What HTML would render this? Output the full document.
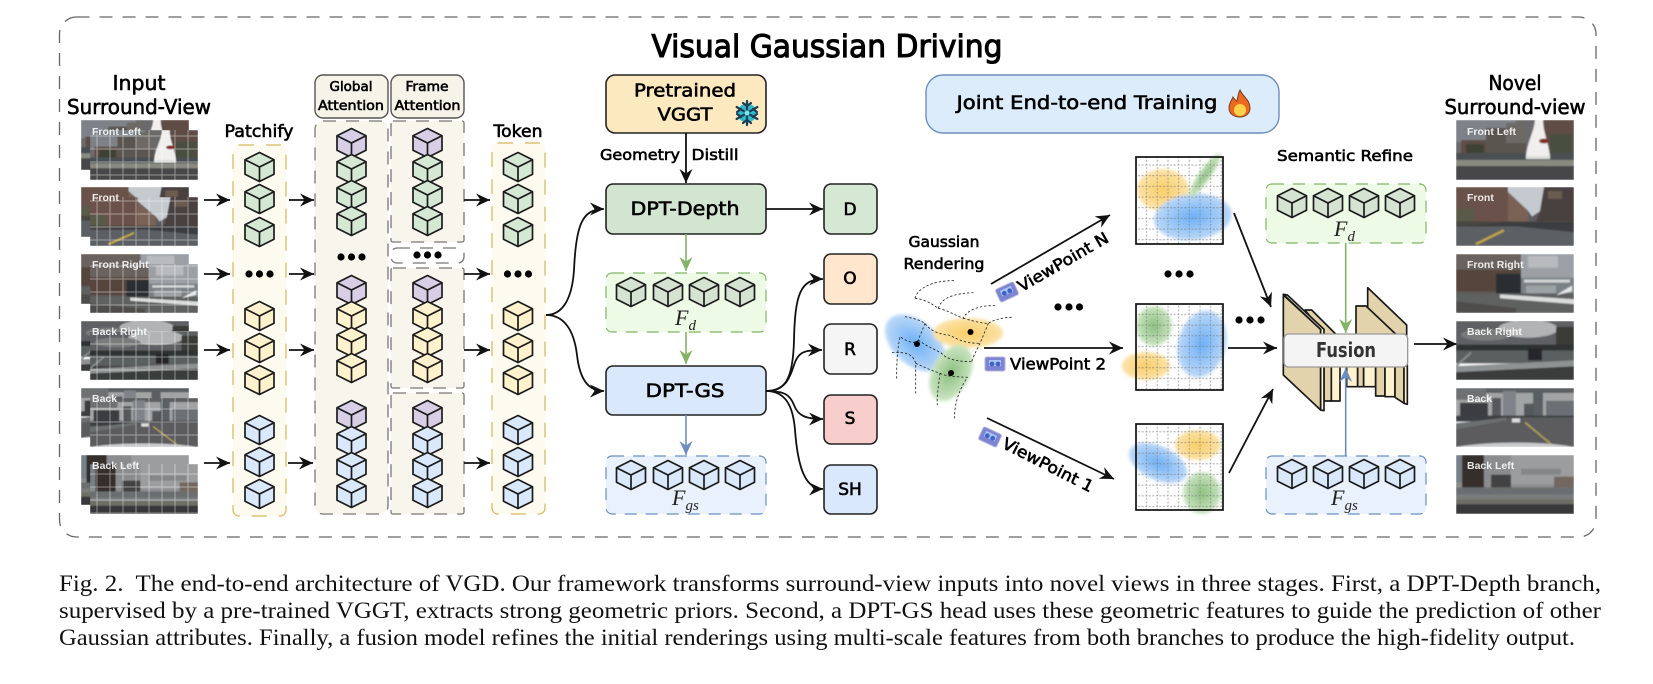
<!DOCTYPE html>
<html><head><meta charset="utf-8"><title>VGD architecture</title>
<style>
html,body{margin:0;padding:0;background:#fff;width:1653px;height:684px;overflow:hidden}
svg{display:block}
.t{font-family:"DejaVu Sans",sans-serif;text-anchor:middle;dominant-baseline:central;fill:#000;stroke:#000;stroke-width:.6}
.m{font-family:"Liberation Serif",serif;font-style:italic;fill:#222}
.l{font-family:"Liberation Sans",sans-serif;font-weight:bold;font-size:10.5px;fill:#fff;fill-opacity:.88;dominant-baseline:central}
.c{font-family:"Liberation Serif",serif;font-size:23px;fill:#111}
.ar{fill:none;stroke:#111;stroke-width:1.8;marker-end:url(#a)}
.ag{fill:none;stroke:#82b366;stroke-width:1.6;marker-end:url(#ag)}
.ab{fill:none;stroke:#6c8ebf;stroke-width:1.6;marker-end:url(#ab)}
.nd{stroke:#222;stroke-width:1.6}
</style></head><body>
<svg width="1653" height="684" viewBox="0 0 1653 684" xmlns="http://www.w3.org/2000/svg">
<defs>
<marker id="a" viewBox="-1 -7 16 14" refX="14" refY="0" markerWidth="16" markerHeight="14" orient="auto" markerUnits="userSpaceOnUse"><path d="M0,-6.5L14,0L0,6.5L4.5,0Z" fill="#111"/></marker>
<marker id="ag" viewBox="-1 -7 16 14" refX="14" refY="0" markerWidth="16" markerHeight="14" orient="auto" markerUnits="userSpaceOnUse"><path d="M0,-6.5L14,0L0,6.5L4.5,0Z" fill="#82b366"/></marker>
<marker id="ab" viewBox="-1 -7 16 14" refX="14" refY="0" markerWidth="16" markerHeight="14" orient="auto" markerUnits="userSpaceOnUse"><path d="M0,-6.5L14,0L0,6.5L4.5,0Z" fill="#6c8ebf"/></marker>
<g id="c"><path d="M0,-14.5L14.5,-7.3V7.3L0,14.5L-14.5,7.3V-7.3Z" stroke="#1c1c1c" stroke-width="1.7" stroke-linejoin="round"/><path d="M-14.5,-7.3L0,0L14.5,-7.3M0,0V14.5" fill="none" stroke="#1c1c1c" stroke-width="1.7"/></g>
<filter id="bl" x="-5%" y="-5%" width="110%" height="110%"><feGaussianBlur stdDeviation=".7"/></filter>
<filter id="gb" x="-20%" y="-20%" width="140%" height="140%"><feGaussianBlur stdDeviation="1.6"/></filter>
<radialGradient id="gy"><stop offset="0" stop-color="#f9cd68"/><stop offset="1" stop-color="#fbe3a8"/></radialGradient>
<radialGradient id="gu"><stop offset="0" stop-color="#6cb0f6"/><stop offset="1" stop-color="#bcd8f8"/></radialGradient>
<radialGradient id="gg"><stop offset="0" stop-color="#8cbf80"/><stop offset="1" stop-color="#cbe5c2"/></radialGradient>
<pattern id="wg" width="13" height="13" patternUnits="userSpaceOnUse"><path d="M6,0V13M0,6H13" stroke="#fff" stroke-opacity=".42" stroke-width="1"/></pattern>
<pattern id="dg" width="10.67" height="10.67" patternUnits="userSpaceOnUse"><path d="M5,0V10.67M0,5H10.67" stroke="#777" stroke-opacity=".7" stroke-width=".8" stroke-dasharray="2 1.5"/></pattern>

<symbol id="s1" viewBox="0 0 118 60" preserveAspectRatio="none"><g filter="url(#bl)">
<rect width="118" height="60" fill="#6a6b6c"/><rect width="60" height="22" fill="#7d8288"/>
<rect x="5" y="20" width="30" height="14" fill="#5e4e46"/><rect x="30" y="8" width="40" height="26" fill="#5a5550"/><rect x="50" y="3" width="20" height="20" fill="#6d6a66"/>
<rect x="88" width="30" height="34" fill="#5e4d44"/><rect x="94" y="14" width="22" height="22" fill="#4a4f40"/><rect x="10" y="24" width="18" height="10" fill="#3c4234"/>
<rect y="33" width="118" height="7" fill="#4a5052"/><path d="M70,36C72,20 78,12 79,0H87C87,12 92,20 94,36Z" fill="#f0efed"/><ellipse cx="88" cy="21" rx="5" ry="2.4" fill="#7e2f28"/><rect x="70" y="36" width="24" height="3" fill="#ddd"/>
<rect y="40" width="118" height="6" fill="#8a8b80"/><rect y="46" width="118" height="14" fill="#46474a"/></g></symbol>

<symbol id="s2" viewBox="0 0 118 60" preserveAspectRatio="none"><g filter="url(#bl)">
<rect width="118" height="60" fill="#5a5c60"/><path d="M0,0H54V38H0Z" fill="#6b5149"/><path d="M0,22H18V38H0Z" fill="#5a5a48"/><path d="M52,5L72,24V38H52Z" fill="#7a6357"/>
<path d="M52,0H90L88,22L76,30L72,24L52,5Z" fill="#c4cacf"/><path d="M88,0H118V36H80L84,24Z" fill="#4a403f"/><rect x="92" y="4" width="14" height="8" fill="#6b5c50"/>
<rect y="35" width="118" height="5" fill="#48463f"/><path d="M0,40L50,36H118V46L60,40Z" fill="#3b3d40"/><path d="M0,41L60,40L118,46V60H0Z" fill="#5c5f63"/>
<path d="M20,58L48,44" stroke="#c3a645" stroke-width="2.4"/></g></symbol>

<symbol id="s3" viewBox="0 0 118 60" preserveAspectRatio="none"><g filter="url(#bl)">
<rect width="118" height="60" fill="#5d5856"/><rect width="65" height="18" fill="#6a625e"/><rect y="16" width="65" height="22" fill="#56443c"/><rect x="40" y="20" width="25" height="20" fill="#2b2e30"/>
<rect x="65" width="53" height="27" fill="#9ca0a4"/><rect x="72" y="2" width="30" height="12" fill="#b8babd"/><rect x="65" y="24" width="53" height="18" fill="#7a8286"/><rect x="68" y="26" width="46" height="3" fill="#d2d5d6"/><rect x="70" y="32" width="30" height="8" fill="#9da3a5"/>
<rect y="40" width="118" height="20" fill="#5f6060"/><path d="M44,41L118,46V51L44,45Z" fill="#dadcdc"/><path d="M0,48L60,55V60H0Z" fill="#4f4e4c"/><path d="M100,42L116,32V38Z" fill="#e6e6e6"/></g></symbol>

<symbol id="s4" viewBox="0 0 118 60" preserveAspectRatio="none"><g filter="url(#bl)">
<rect width="118" height="28" fill="#5f6163"/><ellipse cx="72" cy="8" rx="30" ry="9" fill="#b2b3b4"/><ellipse cx="30" cy="14" rx="25" ry="6" fill="#7a7b7c"/>
<rect x="100" y="6" width="18" height="26" fill="#3a3a38"/><rect y="24" width="118" height="6" fill="#2f3130"/><rect y="30" width="118" height="13" fill="#5a5e5f"/><rect x="72" y="28" width="14" height="12" fill="#25282a"/>
<path d="M0,46L118,40V46L0,52Z" fill="#8f9292"/><path d="M0,52L118,46V60H0Z" fill="#3a3c3c"/><path d="M0,46L15,32" stroke="#8a8d8d" stroke-width="2"/></g></symbol>

<symbol id="s5" viewBox="0 0 118 60" preserveAspectRatio="none"><g filter="url(#bl)">
<rect width="118" height="32" fill="#a3a4a5"/><rect width="118" height="5" fill="#5c5e60"/><rect width="30" height="12" fill="#6e7072"/>
<rect x="4" y="15" width="28" height="17" fill="#3b3d3f"/><rect x="36" y="10" width="9" height="20" fill="#57595b"/><rect x="47" y="3" width="13" height="27" fill="#80848a"/><rect x="77" y="2" width="10" height="27" fill="#5a5e62"/><rect x="68" y="16" width="10" height="13" fill="#55585a"/><rect x="90" y="13" width="28" height="19" fill="#6c7074"/>
<rect y="28" width="118" height="6" fill="#3e4042"/><path d="M0,36L54,30H118V60H0Z" fill="#5b5c5e"/><path d="M0,36L50,30V33L0,42Z" fill="#6d6f71"/><path d="M69,35L95,57" stroke="#b9a655" stroke-width="1.5"/><rect x="56" y="31" width="8" height="4" fill="#ddd"/><path d="M0,60C30,54 90,54 118,60Z" fill="#c9cacb"/></g></symbol>

<symbol id="s6" viewBox="0 0 118 60" preserveAspectRatio="none"><g filter="url(#bl)">
<rect width="118" height="60" fill="#8a8c8e"/><rect x="55" width="63" height="30" fill="#9c9d9f"/><rect x="65" y="14" width="40" height="6" fill="#848688"/>
<rect width="7" height="28" fill="#768087"/><rect x="6" width="22" height="33" fill="#342f2b"/><rect x="35" y="20" width="20" height="13" fill="#434342"/><rect x="98" y="22" width="20" height="11" fill="#736860"/>
<rect y="33" width="118" height="8" fill="#6b6e70"/><rect y="40" width="118" height="5" fill="#7a7c7c"/><rect y="45" width="118" height="5" fill="#6e6e66"/><rect y="50" width="118" height="10" fill="#37393a"/></g></symbol>
</defs>

<rect width="1653" height="684" fill="#fff"/>
<rect x="59.5" y="17" width="1536.5" height="520" rx="17" fill="none" stroke="#666" stroke-width="1.3" stroke-dasharray="13 10"/>

<text class="t" x="827" y="47" font-size="31" textLength="351" lengthAdjust="spacingAndGlyphs" style="stroke-width:1.1">Visual Gaussian Driving</text>

<!-- left input images -->
<text class="t" x="139" y="83" font-size="20" textLength="53" lengthAdjust="spacingAndGlyphs">Input</text>
<text class="t" x="139" y="107" font-size="20" textLength="144" lengthAdjust="spacingAndGlyphs">Surround-View</text>

<use href="#s1" x="81" y="120" width="108" height="50"/><use href="#s1" x="90" y="130" width="108" height="50"/>
<use href="#s2" x="81" y="187" width="108" height="50"/><use href="#s2" x="90" y="197" width="108" height="49"/>
<use href="#s3" x="81" y="254" width="108" height="50"/><use href="#s3" x="90" y="264" width="108" height="49"/>
<use href="#s4" x="81" y="321" width="108" height="50"/><use href="#s4" x="90" y="331" width="108" height="49"/>
<use href="#s5" x="81" y="388" width="108" height="50"/><use href="#s5" x="90" y="398" width="108" height="49"/>
<use href="#s6" x="81" y="455" width="108" height="50"/><use href="#s6" x="90" y="464" width="108" height="50"/>
<rect x="90" y="130" width="108" height="50" fill="url(#wg)"/><rect x="90" y="197" width="108" height="49" fill="url(#wg)"/><rect x="90" y="264" width="108" height="49" fill="url(#wg)"/><rect x="90" y="331" width="108" height="49" fill="url(#wg)"/><rect x="90" y="398" width="108" height="49" fill="url(#wg)"/><rect x="90" y="464" width="108" height="50" fill="url(#wg)"/>
<text class="l" x="92" y="132">Front Left</text><text class="l" x="92" y="198">Front</text><text class="l" x="92" y="265">Front Right</text><text class="l" x="92" y="332">Back Right</text><text class="l" x="92" y="399">Back</text><text class="l" x="92" y="466">Back Left</text>

<!-- patchify -->
<text class="t" x="259" y="132" font-size="17" textLength="69" lengthAdjust="spacingAndGlyphs">Patchify</text>
<rect x="233" y="145" width="53" height="371" rx="6" fill="#fdfaf0" stroke="#d6b656" stroke-width="1.2" stroke-dasharray="15 12"/>
<g fill="#d5e8d4"><use href="#c" x="259.5" y="167"/><use href="#c" x="259.5" y="199"/><use href="#c" x="259.5" y="232"/></g>
<g fill="#fff2cc"><use href="#c" x="259.5" y="316"/><use href="#c" x="259.5" y="348"/><use href="#c" x="259.5" y="380"/></g>
<g fill="#dae8fc"><use href="#c" x="259.5" y="430"/><use href="#c" x="259.5" y="462"/><use href="#c" x="259.5" y="494"/></g>
<circle cx="249" cy="274" r="3.6"/><circle cx="259.5" cy="274" r="3.6"/><circle cx="270" cy="274" r="3.6"/>

<!-- attention -->
<rect x="315" y="75" width="73" height="43" rx="8" fill="#f6f4e9" stroke="#555" stroke-width="1.4"/>
<rect x="391" y="75" width="73" height="43" rx="8" fill="#f6f4e9" stroke="#555" stroke-width="1.4"/>
<text class="t" x="351" y="87" font-size="13.5" textLength="43" lengthAdjust="spacingAndGlyphs">Global</text>
<text class="t" x="351" y="106" font-size="13.5" textLength="66" lengthAdjust="spacingAndGlyphs">Attention</text>
<text class="t" x="427" y="87" font-size="13.5" textLength="43" lengthAdjust="spacingAndGlyphs">Frame</text>
<text class="t" x="427.5" y="106" font-size="13.5" textLength="66" lengthAdjust="spacingAndGlyphs">Attention</text>

<g fill="#f7f5ec" stroke="#777" stroke-width="1.3" stroke-dasharray="13 10">
<rect x="315" y="121" width="73" height="393" rx="8"/>
<rect x="391" y="121" width="73" height="121" rx="2"/>
<rect x="391" y="248" width="73" height="15" rx="6" fill="#fff"/>
<rect x="391" y="268" width="73" height="120" rx="2"/>
<rect x="391" y="393" width="73" height="121" rx="2"/>
</g>
<g fill="#d8cfe6"><use href="#c" x="351.5" y="143"/><use href="#c" x="427.5" y="143"/></g>
<g fill="#d5e8d4"><use href="#c" x="351.5" y="169"/><use href="#c" x="351.5" y="195"/><use href="#c" x="351.5" y="221"/><use href="#c" x="427.5" y="169"/><use href="#c" x="427.5" y="195"/><use href="#c" x="427.5" y="221"/></g>
<circle cx="341" cy="257" r="3.6"/><circle cx="351.5" cy="257" r="3.6"/><circle cx="362" cy="257" r="3.6"/>
<circle cx="417" cy="255" r="3.6"/><circle cx="427.5" cy="255" r="3.6"/><circle cx="438" cy="255" r="3.6"/>
<g fill="#d8cfe6"><use href="#c" x="351.5" y="290"/><use href="#c" x="427.5" y="290"/></g>
<g fill="#fff2cc"><use href="#c" x="351.5" y="316"/><use href="#c" x="351.5" y="342"/><use href="#c" x="351.5" y="368"/><use href="#c" x="427.5" y="316"/><use href="#c" x="427.5" y="342"/><use href="#c" x="427.5" y="368"/></g>
<g fill="#d8cfe6"><use href="#c" x="351.5" y="415"/><use href="#c" x="427.5" y="415"/></g>
<g fill="#dae8fc"><use href="#c" x="351.5" y="441"/><use href="#c" x="351.5" y="467"/><use href="#c" x="351.5" y="493"/><use href="#c" x="427.5" y="441"/><use href="#c" x="427.5" y="467"/><use href="#c" x="427.5" y="493"/></g>

<!-- token -->
<text class="t" x="518" y="132" font-size="17" textLength="49" lengthAdjust="spacingAndGlyphs">Token</text>
<rect x="492" y="143" width="53" height="371" rx="6" fill="#fdfaf0" stroke="#d6b656" stroke-width="1.2" stroke-dasharray="15 12"/>
<g fill="#d5e8d4"><use href="#c" x="518" y="167"/><use href="#c" x="518" y="199"/><use href="#c" x="518" y="232"/></g>
<g fill="#fff2cc"><use href="#c" x="518" y="316"/><use href="#c" x="518" y="348"/><use href="#c" x="518" y="380"/></g>
<g fill="#dae8fc"><use href="#c" x="518" y="430"/><use href="#c" x="518" y="462"/><use href="#c" x="518" y="494"/></g>
<circle cx="507.5" cy="274" r="3.6"/><circle cx="518" cy="274" r="3.6"/><circle cx="528.5" cy="274" r="3.6"/>

<!-- row arrows -->
<path class="ar" d="M204,200H230"/><path class="ar" d="M289,200H314"/><path class="ar" d="M464,200H490"/>
<path class="ar" d="M204,274H230"/><path class="ar" d="M289,274H314"/><path class="ar" d="M464,274H490"/>
<path class="ar" d="M204,350H230"/><path class="ar" d="M289,350H314"/><path class="ar" d="M464,350H490"/>
<path class="ar" d="M204,463H230"/><path class="ar" d="M288,463H313"/><path class="ar" d="M464,463H490"/>

<!-- token to DPT -->
<path class="ar" d="M546,315C562,315 572,300 574,270C576,225 582,209 604,209"/>
<path class="ar" d="M546,315C564,315 574,330 577,355C580,382 590,391 604,391"/>

<!-- middle column -->
<rect class="nd" x="606" y="75" width="160" height="58" rx="9" fill="#fde9bf"/>
<text class="t" x="685" y="91" font-size="18" textLength="102" lengthAdjust="spacingAndGlyphs">Pretrained</text>
<text class="t" x="685" y="115" font-size="18" textLength="55" lengthAdjust="spacingAndGlyphs">VGGT</text>
<circle cx="747" cy="113" r="9.5" fill="#2fb9cc"/>
<g fill="none" stroke="#1d3f55" stroke-width="2.2" stroke-linecap="round"><path d="M747,101V125M736.6,107L757.4,119M736.6,119L757.4,107"/><path d="M743,103L747,106L751,103M743,123L747,120L751,123M737,112L741,109M757,114L753,117M737,114L741,117M757,112L753,109"/></g>
<circle cx="747" cy="113" r="2.5" fill="#7ae6f0"/>

<path class="ar" d="M686,133V183"/>
<text class="t" x="640" y="155" font-size="15.5" textLength="80" lengthAdjust="spacingAndGlyphs">Geometry</text>
<text class="t" x="715" y="155" font-size="15.5" textLength="47" lengthAdjust="spacingAndGlyphs">Distill</text>

<rect class="nd" x="606" y="184" width="160" height="50" rx="7" fill="#d1e5d0"/>
<text class="t" x="685" y="209" font-size="19" textLength="109" lengthAdjust="spacingAndGlyphs">DPT-Depth</text>
<path class="ag" d="M686,234V271"/>
<rect x="606" y="273" width="160" height="59" rx="6" fill="#edfbe6" stroke="#82b366" stroke-width="1.2" stroke-dasharray="12 9"/>
<g fill="#d5e3d2"><use href="#c" x="631" y="292"/><use href="#c" x="668" y="292"/><use href="#c" x="704" y="292"/><use href="#c" x="740" y="292"/></g>
<text class="m" x="675" y="325" font-size="22">F<tspan dy="5" font-size="15">d</tspan></text>
<path class="ag" d="M686,332V364"/>

<rect class="nd" x="606" y="366" width="160" height="49" rx="7" fill="#d9e8fb"/>
<text class="t" x="685" y="391" font-size="19" textLength="79" lengthAdjust="spacingAndGlyphs">DPT-GS</text>
<path class="ab" d="M686,415V455"/>
<rect x="606" y="456" width="160" height="58" rx="6" fill="#e8f1fc" stroke="#6c8ebf" stroke-width="1.2" stroke-dasharray="12 9"/>
<g fill="#dae8fc"><use href="#c" x="631" y="475"/><use href="#c" x="668" y="475"/><use href="#c" x="704" y="475"/><use href="#c" x="740" y="475"/></g>
<text class="m" x="672" y="505" font-size="22">F<tspan dy="5" font-size="15">gs</tspan></text>

<!-- outputs -->
<path class="ar" d="M766,209H823"/>
<rect class="nd" x="824" y="184" width="53" height="50" rx="7" fill="#d5e8d4"/>
<rect class="nd" x="824" y="254" width="53" height="50" rx="7" fill="#ffe6cc"/>
<rect class="nd" x="824" y="324" width="53" height="50" rx="7" fill="#f5f5f5"/>
<rect class="nd" x="824" y="395" width="53" height="49" rx="7" fill="#f8cecc"/>
<rect class="nd" x="824" y="465" width="53" height="49" rx="7" fill="#dae8fc"/>
<text class="t" x="850" y="210" font-size="17">D</text>
<text class="t" x="850" y="279" font-size="17">O</text>
<text class="t" x="850" y="350" font-size="17">R</text>
<text class="t" x="850" y="419" font-size="17">S</text>
<text class="t" x="850" y="490" font-size="17">SH</text>
<path class="ar" d="M766,391C785,391 793,380 794,340C795,295 800,279 823,279"/>
<path class="ar" d="M766,391C785,391 790,378 794,365C798,352 804,350 822,350"/>
<path class="ar" d="M766,391C785,391 790,395 794,405C798,416 806,419 823,419"/>
<path class="ar" d="M766,391C785,391 793,405 795,430C798,470 806,489 823,489"/>

<!-- Joint box -->
<rect x="926" y="75" width="353" height="58" rx="17" fill="#dcecfb" stroke="#6c8ebf" stroke-width="1.4"/>
<text class="t" x="1087" y="103" font-size="19" textLength="261" lengthAdjust="spacingAndGlyphs">Joint End-to-end Training</text>
<path d="M1240,90C1243,97 1250,100 1250,108C1250,114 1245,117 1240,117C1234,117 1229,114 1229,108C1229,103 1232,100 1233,97C1235,100 1236,101 1237,101C1238,97 1238,93 1240,90Z" fill="#ec6a1e" stroke="#7a3a20" stroke-width="1"/>
<ellipse cx="1240" cy="110" rx="6" ry="6" fill="#ffd24a"/>

<!-- gaussian rendering -->
<text class="t" x="944" y="242" font-size="15.5" textLength="71" lengthAdjust="spacingAndGlyphs">Gaussian</text>
<text class="t" x="944" y="264" font-size="15.5" textLength="81" lengthAdjust="spacingAndGlyphs">Rendering</text>
<g filter="url(#gb)">
<ellipse cx="915" cy="343" rx="35" ry="22" transform="rotate(42 915 343)" fill="url(#gu)"/>
<ellipse cx="968" cy="333" rx="35" ry="15" fill="url(#gy)"/>
<ellipse cx="951" cy="373" rx="30" ry="19" transform="rotate(-62 951 373)" fill="url(#gg)"/>
</g>
<g transform="translate(880,60) scale(.33333)" fill="none" stroke="#222" stroke-width="2.5" stroke-dasharray="7 6">
<path d="M105,715C110,690 150,660 228,662"/><path d="M105,715C150,720 170,745 175,745"/><path d="M175,745C185,710 230,700 280,698"/>
<path d="M175,745C200,750 225,765 250,775C260,750 300,735 350,737"/><path d="M250,775C270,780 300,790 325,790C345,778 370,772 400,772"/>
<path d="M325,790L300,850C290,870 280,890 275,905"/><path d="M75,770C100,775 120,780 135,790C150,815 190,825 205,825C225,830 240,850 300,850"/>
<path d="M135,790L115,840C100,860 60,830 60,830C50,880 50,920 50,960"/><path d="M115,840C140,860 160,865 185,880C200,900 240,905 275,905"/>
<path d="M36,878C70,875 100,880 107,910C107,950 107,980 107,1000"/><path d="M107,910C130,920 150,930 180,940C175,980 170,1010 172,1035"/><path d="M180,940C200,950 230,950 262,952C240,985 222,1030 224,1075"/>
</g>
<circle cx="917" cy="344" r="3"/><circle cx="970.5" cy="332" r="3"/><circle cx="951" cy="373" r="3"/>

<path class="ar" d="M991,284L1110,215"/>
<path class="ar" d="M984,348H1123"/>
<path class="ar" d="M987,418L1114,479"/>
<circle cx="1058" cy="307" r="3.6"/><circle cx="1069" cy="307" r="3.6"/><circle cx="1079.5" cy="307" r="3.6"/>

<text class="t" x="1063" y="262" font-size="16" textLength="102" lengthAdjust="spacingAndGlyphs" transform="rotate(-30 1063 262)">ViewPoint N</text>
<text class="t" x="1058" y="364" font-size="16" textLength="96" lengthAdjust="spacingAndGlyphs">ViewPoint 2</text>
<text class="t" x="1048" y="465" font-size="16" textLength="100" lengthAdjust="spacingAndGlyphs" transform="rotate(27 1048 465)">ViewPoint 1</text>

<g transform="translate(1007,292) rotate(-25)"><rect x="-10" y="-7" width="20" height="14" rx="2" fill="#7d84d4" stroke="#b4b6d8"/><rect x="-6" y="-4" width="12" height="6" fill="#a9c4ee"/><circle cx="-3" cy="0" r="2.4" fill="#3f63c8"/><circle cx="3" cy="0" r="2.4" fill="#3f63c8"/></g>
<g transform="translate(995,364)"><rect x="-10" y="-7" width="20" height="14" rx="2" fill="#7d84d4" stroke="#b4b6d8"/><rect x="-6" y="-4" width="12" height="6" fill="#a9c4ee"/><circle cx="-3" cy="0" r="2.4" fill="#3f63c8"/><circle cx="3" cy="0" r="2.4" fill="#3f63c8"/></g>
<g transform="translate(990,437) rotate(25)"><rect x="-10" y="-7" width="20" height="14" rx="2" fill="#7d84d4" stroke="#b4b6d8"/><rect x="-6" y="-4" width="12" height="6" fill="#a9c4ee"/><circle cx="-3" cy="0" r="2.4" fill="#3f63c8"/><circle cx="3" cy="0" r="2.4" fill="#3f63c8"/></g>

<!-- grids -->
<g filter="url(#gb)">
<ellipse cx="1163" cy="190" rx="26" ry="21" fill="url(#gy)"/>
<ellipse cx="1193" cy="217" rx="39" ry="23" transform="rotate(-6 1193 217)" fill="url(#gu)"/>
<ellipse cx="1205" cy="175" rx="26" ry="6" transform="rotate(-55 1205 175)" fill="url(#gg)"/>
<ellipse cx="1154" cy="326" rx="18" ry="20" fill="url(#gg)"/>
<ellipse cx="1202" cy="344" rx="24" ry="34" transform="rotate(15 1202 344)" fill="url(#gu)"/>
<ellipse cx="1146" cy="366" rx="24" ry="14" fill="url(#gy)"/>
<ellipse cx="1158" cy="463" rx="31" ry="17" transform="rotate(25 1158 463)" fill="url(#gu)"/>
<ellipse cx="1198" cy="445" rx="23" ry="15" fill="url(#gy)"/>
<ellipse cx="1202" cy="493" rx="19" ry="21" fill="url(#gg)"/>
</g>
<g stroke="#111" stroke-width="1.7">
<rect x="1136" y="157" width="87" height="87" fill="url(#dg)"/>
<rect x="1136" y="304" width="87" height="86" fill="url(#dg)"/>
<rect x="1136" y="424" width="87" height="86" fill="url(#dg)"/>
</g>
<circle cx="1168" cy="274" r="3.6"/><circle cx="1179" cy="274" r="3.6"/><circle cx="1190" cy="274" r="3.6"/>
<circle cx="1239" cy="320" r="3.6"/><circle cx="1250" cy="320" r="3.6"/><circle cx="1261" cy="320" r="3.6"/>

<path class="ar" d="M1234,213L1271,307"/><path class="ar" d="M1228,348H1277"/><path class="ar" d="M1229,473L1273,389"/>

<!-- semantic refine -->
<text class="t" x="1345" y="156" font-size="15.5" textLength="136" lengthAdjust="spacingAndGlyphs">Semantic Refine</text>
<rect x="1266" y="184" width="160" height="59" rx="6" fill="#edfbe6" stroke="#82b366" stroke-width="1.2" stroke-dasharray="12 9"/>
<g fill="#d5e3d2"><use href="#c" x="1292" y="203"/><use href="#c" x="1328" y="203"/><use href="#c" x="1364" y="203"/><use href="#c" x="1400" y="203"/></g>
<text class="m" x="1334" y="236" font-size="22">F<tspan dy="5" font-size="15">d</tspan></text>
<rect x="1266" y="456" width="160" height="58" rx="6" fill="#e8f1fc" stroke="#6c8ebf" stroke-width="1.2" stroke-dasharray="12 9"/>
<g fill="#dae8fc"><use href="#c" x="1292" y="474"/><use href="#c" x="1328" y="474"/><use href="#c" x="1364" y="474"/><use href="#c" x="1400" y="474"/></g>
<text class="m" x="1331" y="505" font-size="22">F<tspan dy="5" font-size="15">gs</tspan></text>

<!-- fusion -->
<g transform="translate(1230,60) scale(.33333)" stroke="#1a1a1a" stroke-width="5" stroke-linejoin="round">
<path d="M225,750H245L320,825H285Z" fill="#e3d3ac"/>
<path d="M413,683L530,795V825H460L413,775Z" fill="#e3d3ac"/>
<path d="M378,738H408L500,825H378Z" fill="#e3d3ac"/>
<rect x="282" y="915" width="22" height="108" fill="#e3d3ac"/><rect x="304" y="915" width="26" height="108" fill="#fff2cf"/>
<rect x="350" y="915" width="33" height="65" fill="#fff2cf"/><rect x="383" y="915" width="18" height="65" fill="#e3d3ac"/>
<rect x="401" y="915" width="36" height="65" fill="#fff2cf"/><rect x="437" y="915" width="28" height="93" fill="#e3d3ac"/>
<rect x="465" y="915" width="30" height="95" fill="#fff2cf"/><path d="M495,915H522V1030L495,1012Z" fill="#e3d3ac"/><path d="M522,915H532V1033L522,1030Z" fill="#fff2cf"/>
<path d="M160,705L272,808V1050L160,945Z" fill="#e3d3ac"/><path d="M160,703L172,705L282,808V1052L272,1050V808Z" fill="#fff2cf"/>
<rect x="162" y="822" width="371" height="99" rx="14" fill="#f4f4f4" stroke="#999" stroke-width="4"/>
</g>
<text class="t" x="1346" y="350" font-size="20" font-weight="bold" style="fill:#333;stroke:none" textLength="60" lengthAdjust="spacingAndGlyphs">Fusion</text>
<path class="ag" d="M1345.7,243V333"/>
<path class="ab" d="M1345.7,456V368"/>
<path class="ar" d="M1414,344H1457"/>

<!-- novel -->
<text class="t" x="1515" y="83" font-size="20" textLength="53" lengthAdjust="spacingAndGlyphs">Novel</text>
<text class="t" x="1515" y="107" font-size="20" textLength="141" lengthAdjust="spacingAndGlyphs">Surround-view</text>
<use href="#s1" x="1456" y="120" width="118" height="60"/>
<use href="#s2" x="1456" y="187" width="118" height="59"/>
<use href="#s3" x="1456" y="254" width="118" height="59"/>
<use href="#s4" x="1456" y="321" width="118" height="59"/>
<use href="#s5" x="1456" y="388" width="118" height="59"/>
<use href="#s6" x="1456" y="455" width="118" height="59"/>
<text class="l" x="1467" y="132">Front Left</text><text class="l" x="1467" y="198">Front</text><text class="l" x="1467" y="265">Front Right</text><text class="l" x="1467" y="332">Back Right</text><text class="l" x="1467" y="399">Back</text><text class="l" x="1467" y="466">Back Left</text>

<!-- caption -->
<text class="c" x="59" y="591" textLength="1542" lengthAdjust="spacingAndGlyphs">Fig. 2.&#160; The end-to-end architecture of VGD. Our framework transforms surround-view inputs into novel views in three stages. First, a DPT-Depth branch,</text>
<text class="c" x="59" y="618" textLength="1542" lengthAdjust="spacingAndGlyphs">supervised by a pre-trained VGGT, extracts strong geometric priors. Second, a DPT-GS head uses these geometric features to guide the prediction of other</text>
<text class="c" x="59" y="645" textLength="1516" lengthAdjust="spacingAndGlyphs">Gaussian attributes. Finally, a fusion model refines the initial renderings using multi-scale features from both branches to produce the high-fidelity output.</text>
</svg>
</body></html>
